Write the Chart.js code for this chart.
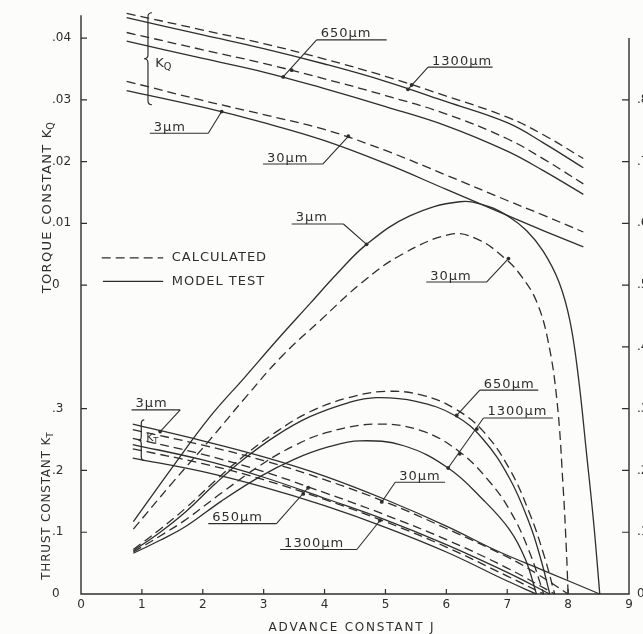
<!DOCTYPE html>
<html>
<head>
<meta charset="utf-8">
<script src="https://cdn.jsdelivr.net/npm/chart.js@4.4.0/dist/chart.umd.min.js"></script>
<style>
  html, body { margin: 0; padding: 0; background: #fcfcfb; overflow: hidden; }
  #wrap { width: 643px; height: 634px; position: relative; }
</style>
</head>
<body>
<div id="wrap"><canvas id="chart"></canvas></div>
<script>
// tick labels
const jTicks = [0, 1, 2, 3, 4, 5, 6, 7, 8, 9];
const ktTicks = [0, 0.1, 0.2, 0.3];
const kqTicks = [0, 0.01, 0.02, 0.03, 0.04];
const etaTicks = [0, 0.1, 0.2, 0.3, 0.4, 0.5, 0.6, 0.7, 0.8];

// torque constant KQ against advance constant J
const kqJ = [0.75, 2, 3, 4, 5, 6, 7, 7.6, 8.25];
const kq1300Calc = [0.0440, 0.0413, 0.0391, 0.0366, 0.0338, 0.0306, 0.0272, 0.0243, 0.0205];
const kq1300Test = [0.0433, 0.0405, 0.0383, 0.0358, 0.0330, 0.0297, 0.0263, 0.0230, 0.0190];
const kq650Calc = [0.0409, 0.0381, 0.0359, 0.0334, 0.0307, 0.0277, 0.0237, 0.0204, 0.0164];
const kq650Test = [0.0395, 0.0367, 0.0345, 0.0318, 0.0289, 0.0258, 0.0217, 0.0185, 0.0147];
const kq30Calc = [0.0330, 0.0299, 0.0276, 0.0252, 0.0218, 0.0178, 0.0137, 0.0113, 0.0086];
const kq3Test = [0.0315, 0.0288, 0.0263, 0.0234, 0.0197, 0.0155, 0.0113, 0.0088, 0.0062];

// thrust constant KT
const kt3J = [0.85, 2, 3, 4, 5, 6, 6.83, 7.6, 8.52];
const kt3Test = [0.275, 0.248, 0.222, 0.191, 0.153, 0.110, 0.070, 0.038, 0];
const kt30J = [0.85, 2, 3, 4, 5, 6, 7, 7.5, 8.0];
const kt30Calc = [0.266, 0.241, 0.216, 0.185, 0.149, 0.106, 0.060, 0.032, 0];
const kt650CalcJ = [0.85, 2, 3, 4, 5, 6, 7, 7.78];
const kt650Calc = [0.252, 0.226, 0.198, 0.164, 0.128, 0.088, 0.042, 0];
const kt650TestJ = [0.85, 2, 3, 4, 5, 6, 7, 7.70];
const kt650Test = [0.242, 0.217, 0.189, 0.155, 0.120, 0.080, 0.035, 0];
const kt1300CalcJ = [0.85, 2, 3, 4, 5, 6, 7, 7.60];
const kt1300Calc = [0.235, 0.211, 0.185, 0.153, 0.117, 0.076, 0.029, 0];
const kt1300TestJ = [0.85, 2, 3, 4, 5, 6, 7, 7.48];
const kt1300Test = [0.220, 0.198, 0.173, 0.143, 0.108, 0.068, 0.021, 0];

// open water efficiency
const eta3J = [0.86, 1.5, 2.12, 2.7, 3.21, 3.76, 4.2, 4.69, 5.4, 6.22, 6.7, 7.04, 7.32, 7.59, 7.85, 8.03, 8.17, 8.3, 8.42, 8.52];
const eta3Test = [0.117, 0.205, 0.287, 0.352, 0.41, 0.470, 0.518, 0.566, 0.612, 0.635, 0.627, 0.610, 0.588, 0.555, 0.505, 0.442, 0.350, 0.230, 0.115, 0];
const eta30J = [0.86, 1.5, 2.12, 2.7, 3.3, 3.92, 4.6, 5.24, 6.06, 6.5, 6.99, 7.25, 7.48, 7.67, 7.82, 7.92, 7.97, 8.0];
const eta30Calc = [0.105, 0.18, 0.25, 0.318, 0.385, 0.442, 0.503, 0.548, 0.582, 0.575, 0.541, 0.512, 0.474, 0.410, 0.310, 0.170, 0.075, 0];
const eta650CalcJ = [0.86, 1.3, 1.73, 2.2, 2.67, 3.2, 3.76, 4.4, 5.0, 5.6, 6.14, 6.6, 7.04, 7.37, 7.6, 7.78];
const eta650Calc = [0.072, 0.105, 0.14, 0.183, 0.223, 0.262, 0.295, 0.318, 0.328, 0.322, 0.300, 0.264, 0.202, 0.130, 0.064, 0];
const eta650TestJ = [0.86, 1.3, 1.73, 2.2, 2.67, 3.2, 3.76, 4.4, 4.85, 5.5, 6.14, 6.6, 7.04, 7.37, 7.55, 7.70];
const eta650Test = [0.070, 0.100, 0.134, 0.178, 0.218, 0.256, 0.287, 0.310, 0.318, 0.312, 0.289, 0.251, 0.187, 0.113, 0.057, 0];
const eta1300CalcJ = [0.86, 1.3, 1.73, 2.3, 2.94, 3.5, 4.06, 4.85, 5.6, 6.22, 6.7, 7.04, 7.35, 7.6];
const eta1300Calc = [0.068, 0.094, 0.121, 0.163, 0.208, 0.240, 0.262, 0.275, 0.264, 0.230, 0.183, 0.136, 0.072, 0];
const eta1300TestJ = [0.86, 1.3, 1.73, 2.3, 2.94, 3.5, 4.06, 4.58, 5.3, 6.03, 6.6, 7.04, 7.3, 7.48];
const eta1300Test = [0.066, 0.087, 0.110, 0.150, 0.190, 0.218, 0.238, 0.248, 0.240, 0.204, 0.153, 0.104, 0.056, 0];

const J_MAX = 9;
const Y_TOP = 0.937;          // common height of the KT / efficiency scale
const FONT = "'DejaVu Sans', sans-serif";
const INK = '#2e2e2e';
const DASH = [9, 5];

// leader labels, in J and KT/efficiency units
const notes = [
  { text: '650\u03bcm', x0: 3.87, x1: 5.02, y: 0.897, end: 'left', tips: [[3.46, 0.848], [3.32, 0.837]] },
  { text: '1300\u03bcm', x0: 5.70, x1: 6.76, y: 0.853, end: 'left', tips: [[5.43, 0.824], [5.37, 0.817]] },
  { text: '3\u03bcm', x0: 1.13, x1: 2.09, y: 0.746, end: 'right', tips: [[2.31, 0.781]] },
  { text: '30\u03bcm', x0: 2.99, x1: 3.97, y: 0.696, end: 'right', tips: [[4.39, 0.741]] },
  { text: '3\u03bcm', x0: 3.46, x1: 4.31, y: 0.599, end: 'right', tips: [[4.69, 0.566]] },
  { text: '30\u03bcm', x0: 5.67, x1: 6.66, y: 0.505, end: 'right', tips: [[7.02, 0.543]] },
  { text: '650\u03bcm', x0: 6.55, x1: 7.51, y: 0.330, end: 'left', tips: [[6.17, 0.289]] },
  { text: '1300\u03bcm', x0: 6.61, x1: 7.75, y: 0.285, end: 'left', tips: [[6.50, 0.267], [6.22, 0.227], [6.03, 0.204]] },
  { text: '30\u03bcm', x0: 5.16, x1: 5.98, y: 0.181, end: 'left', tips: [[4.94, 0.149]] },
  { text: '650\u03bcm', x0: 2.09, x1: 3.21, y: 0.114, end: 'right', tips: [[3.65, 0.162], [3.73, 0.172]] },
  { text: '1300\u03bcm', x0: 3.27, x1: 4.53, y: 0.072, end: 'right', tips: [[4.91, 0.119]] },
  { text: '3\u03bcm', x0: 0.83, x1: 1.63, y: 0.298, end: 'right', tips: [[1.30, 0.263]] }
];

function fmt(v) {
  return v === 0 ? '0' : String(v).replace(/^0/, '');
}

function curve(xs, ys, axis, calc) {
  return {
    data: xs.map((x, i) => ({ x: x, y: ys[i] })),
    yAxisID: axis,
    showLine: true,
    borderColor: INK,
    borderWidth: 1.3,
    borderDash: calc ? DASH : [],
    pointRadius: 0,
    tension: 0.4,
    clip: false
  };
}

function text(ctx, str, x, y, size, spacing, align, baseline) {
  ctx.font = size + 'px ' + FONT;
  ctx.letterSpacing = spacing + 'px';
  ctx.textAlign = align || 'left';
  ctx.textBaseline = baseline || 'alphabetic';
  ctx.fillText(str, x, y);
  const w = ctx.measureText(str).width;
  ctx.letterSpacing = '0px';
  return w;
}

// "K" with a subscript letter
function kSymbol(ctx, sub, x, y, size) {
  const w = text(ctx, 'K', x, y, size, 0, 'left', 'middle');
  text(ctx, sub, x + w, y + size * 0.3, size * 0.75, 0, 'left', 'middle');
}

function brace(ctx, x, yTop, yBot, w) {
  const yMid = (yTop + yBot) / 2;
  const r = Math.min(4, (yBot - yTop) / 6);
  ctx.beginPath();
  ctx.moveTo(x + w, yTop);
  ctx.quadraticCurveTo(x, yTop, x, yTop + r);
  ctx.lineTo(x, yMid - r);
  ctx.quadraticCurveTo(x, yMid, x - w, yMid);
  ctx.quadraticCurveTo(x, yMid, x, yMid + r);
  ctx.lineTo(x, yBot - r);
  ctx.quadraticCurveTo(x, yBot, x + w, yBot);
  ctx.stroke();
}

const sheetPlugin = {
  id: 'sheet',
  afterDraw(chart) {
    const { ctx, chartArea: area, scales } = chart;
    const sx = scales.x, sy = scales.y, se = scales.yEta;
    const X = v => sx.getPixelForValue(v);
    const Y = v => sy.getPixelForValue(v);

    ctx.save();
    ctx.strokeStyle = INK;
    ctx.fillStyle = INK;

    // axis lines
    ctx.lineWidth = 1.4;
    ctx.beginPath();
    ctx.moveTo(area.left, area.top);
    ctx.lineTo(area.left, area.bottom);
    ctx.lineTo(area.right, area.bottom);
    ctx.lineTo(area.right, se.getPixelForValue(0.9));
    ctx.stroke();

    // inward tick marks
    ctx.lineWidth = 1.2;
    ctx.beginPath();
    sx.ticks.forEach(t => {
      if (t.value > 0 && t.value < J_MAX) {
        ctx.moveTo(X(t.value), area.bottom);
        ctx.lineTo(X(t.value), area.bottom - 5);
      }
    });
    sy.ticks.forEach(t => {
      if (t.value > 0) {
        ctx.moveTo(area.left, Y(t.value));
        ctx.lineTo(area.left + 6, Y(t.value));
      }
    });
    se.ticks.forEach(t => {
      if (t.value > 0) {
        const p = se.getPixelForValue(t.value);
        ctx.moveTo(area.right, p);
        ctx.lineTo(area.right - 7, p);
      }
    });
    ctx.stroke();

    // axis titles
    ctx.save();
    ctx.translate(area.left - 33, Y(0.487));
    ctx.rotate(-Math.PI / 2);
    let w = text(ctx, 'TORQUE CONSTANT ', 0, 0, 13, 1.3, 'left', 'middle');
    kSymbol(ctx, 'Q', w, 0, 13);
    ctx.restore();

    ctx.save();
    ctx.translate(area.left - 34, Y(0.023));
    ctx.rotate(-Math.PI / 2);
    w = text(ctx, 'THRUST CONSTANT ', 0, 0, 12, 0.8, 'left', 'middle');
    kSymbol(ctx, 'T', w, 0, 12);
    ctx.restore();

    text(ctx, 'ADVANCE CONSTANT J', X(4.45), area.bottom + 34, 12, 1.8, 'center', 'middle');

    // legend
    ctx.lineWidth = 1.3;
    ctx.setLineDash(DASH);
    ctx.beginPath();
    ctx.moveTo(X(0.34), Y(0.544));
    ctx.lineTo(X(1.35), Y(0.544));
    ctx.stroke();
    ctx.setLineDash([]);
    ctx.beginPath();
    ctx.moveTo(X(0.36), Y(0.506));
    ctx.lineTo(X(1.35), Y(0.506));
    ctx.stroke();
    text(ctx, 'CALCULATED', X(1.49), Y(0.544), 13, 1, 'left', 'middle');
    text(ctx, 'MODEL TEST', X(1.49), Y(0.506), 13, 1, 'left', 'middle');

    // leader labels
    ctx.lineWidth = 1.1;
    notes.forEach(n => {
      const a = X(n.x0), b = X(n.x1), y = Y(n.y);
      const tip = n.tips[n.tips.length - 1];
      ctx.beginPath();
      ctx.moveTo(a, y);
      ctx.lineTo(b, y);
      ctx.moveTo(n.end === 'left' ? a : b, y);
      ctx.lineTo(X(tip[0]), Y(tip[1]));
      ctx.stroke();
      n.tips.forEach(p => {
        ctx.beginPath();
        ctx.arc(X(p[0]), Y(p[1]), 1.9, 0, Math.PI * 2);
        ctx.fill();
      });
      text(ctx, n.text, a + 4, y - 2.5, 13, 1, 'left', 'alphabetic');
    });

    // braces grouping the KQ and KT curves
    ctx.lineWidth = 1.2;
    brace(ctx, X(1.10), Y(0.941), Y(0.792), 4);
    kSymbol(ctx, 'Q', X(1.22), Y(0.858), 13);
    brace(ctx, X(0.99), Y(0.282), Y(0.216), 3);
    kSymbol(ctx, 'T', X(1.07), Y(0.252), 11);

    ctx.restore();
  }
};

const datasets = [
  curve(kqJ, kq1300Calc, 'yQ', true),
  curve(kqJ, kq1300Test, 'yQ', false),
  curve(kqJ, kq650Calc, 'yQ', true),
  curve(kqJ, kq650Test, 'yQ', false),
  curve(kqJ, kq30Calc, 'yQ', true),
  curve(kqJ, kq3Test, 'yQ', false),
  curve(kt3J, kt3Test, 'y', false),
  curve(kt30J, kt30Calc, 'y', true),
  curve(kt650CalcJ, kt650Calc, 'y', true),
  curve(kt650TestJ, kt650Test, 'y', false),
  curve(kt1300CalcJ, kt1300Calc, 'y', true),
  curve(kt1300TestJ, kt1300Test, 'y', false),
  curve(eta3J, eta3Test, 'yEta', false),
  curve(eta30J, eta30Calc, 'yEta', true),
  curve(eta650CalcJ, eta650Calc, 'yEta', true),
  curve(eta650TestJ, eta650Test, 'yEta', false),
  curve(eta1300CalcJ, eta1300Calc, 'yEta', true),
  curve(eta1300TestJ, eta1300Test, 'yEta', false)
];

const tickFont = { family: FONT, size: 12 };
const leftTicks = ktTicks.concat(kqTicks.map(q => q * 10 + 0.5));

new Chart(document.getElementById('chart'), {
  type: 'scatter',
  data: { datasets: datasets },
  options: {
    responsive: true,
    maintainAspectRatio: false,
    animation: false,
    devicePixelRatio: 1,
    layout: { padding: { left: 52, top: 13, right: 0, bottom: 0 } },
    plugins: { legend: { display: false }, tooltip: { enabled: false } },
    scales: {
      x: {
        type: 'linear',
        min: 0,
        max: J_MAX,
        border: { display: false },
        grid: { display: false, drawTicks: false },
        afterBuildTicks: s => { s.ticks = jTicks.map(v => ({ value: v })); },
        ticks: { font: tickFont, color: INK, padding: 4, callback: v => String(v) },
        afterFit: s => { s.height = 40; }
      },
      y: {
        position: 'left',
        min: 0,
        max: Y_TOP,
        border: { display: false },
        grid: { display: false, drawTicks: false },
        afterBuildTicks: s => { s.ticks = leftTicks.map(v => ({ value: v })); },
        ticks: {
          font: tickFont,
          color: INK,
          padding: 0,
          crossAlign: 'far',
          autoSkip: false,
          callback: (v, i) => i < ktTicks.length ? fmt(ktTicks[i]) : fmt(kqTicks[i - ktTicks.length])
        },
        afterFit: s => { s.width = 29; }
      },
      yQ: {
        display: false,
        min: -0.05,
        max: Y_TOP / 10 - 0.05
      },
      yEta: {
        position: 'right',
        min: 0,
        max: Y_TOP,
        border: { display: false },
        grid: { display: false, drawTicks: false },
        afterBuildTicks: s => { s.ticks = etaTicks.map(v => ({ value: v })); },
        ticks: { font: tickFont, color: INK, padding: 8, autoSkip: false, callback: (v, i) => fmt(etaTicks[i]) },
        afterFit: s => { s.width = 14; }
      }
    }
  },
  plugins: [sheetPlugin]
});
</script>
</body>
</html>
